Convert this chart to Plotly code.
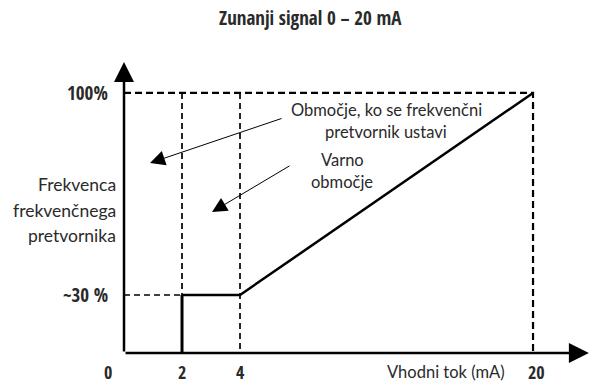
import plotly.graph_objects as go

# Operating curve of the frequency converter for an external 0-20 mA signal
current_ma = [2, 4, 20]          # input current, mA
frequency_pct = [30, 30, 100]     # converter frequency, %
stop_current = 2                  # below this the converter stops
safe_current = 4                  # start of the linear range
max_current = 20
min_freq = 30
max_freq = 100

x_tick_values = [0, 2, 4, 20]
x_tick_labels = ["0", "2", "4", "20"]
y_tick_values = [30, 100]
y_tick_labels = ["~30 %", "100%"]

W, H = 591, 382
BOLD = "Open Sans Condensed, Liberation Sans Narrow, sans-serif"
REG = "Lato, Roboto, sans-serif"
TXT = "#2a2a2a"

# The schematic axes are piecewise: the low range is drawn wider than the rest.
X_K = 0.6315
Y_K = 0.67


def mx(v):
    return v if v <= safe_current else safe_current + (v - safe_current) * X_K


def my(v):
    return v * Y_K if v <= min_freq else min_freq * Y_K + (v - min_freq)


X_RANGE = [-4.276, 16.103]
Y_RANGE = [-10.05, 122.3]

fig = go.Figure()

dash_style = dict(color="black", width=2.2, dash="7px,4px")
thin_dash = dict(color="black", width=1.7, dash="6px,4px")

# dashed guides
fig.add_trace(go.Scatter(x=[mx(0), mx(max_current), mx(max_current)],
                         y=[my(max_freq), my(max_freq), my(0)],
                         mode="lines", line=dash_style, hoverinfo="skip"))
fig.add_trace(go.Scatter(x=[mx(stop_current), mx(stop_current)],
                         y=[my(max_freq), my(min_freq)],
                         mode="lines", line=thin_dash, hoverinfo="skip"))
fig.add_trace(go.Scatter(x=[mx(safe_current), mx(safe_current)],
                         y=[my(max_freq), my(0)],
                         mode="lines", line=thin_dash, hoverinfo="skip"))
fig.add_trace(go.Scatter(x=[mx(0), mx(stop_current)],
                         y=[my(min_freq), my(min_freq)],
                         mode="lines", line=thin_dash, hoverinfo="skip"))

# operating curve
fig.add_trace(go.Scatter(x=[mx(stop_current), mx(stop_current)],
                         y=[my(0), my(min_freq)],
                         mode="lines", line=dict(color="black", width=3),
                         hoverinfo="skip"))
fig.add_trace(go.Scatter(x=[mx(v) for v in current_ma],
                         y=[my(v) for v in frequency_pct],
                         mode="lines", line=dict(color="black", width=2.5),
                         hoverinfo="skip"))

annotations = []

# axes with arrowheads
annotations.append(dict(x=0, y=100.8, ax=0, ay=my(0), xref="x", yref="y",
                        axref="x", ayref="y", showarrow=True, text="",
                        arrowhead=2, arrowsize=1.6, arrowwidth=2.5,
                        arrowcolor="black"))
annotations.append(dict(x=16.03, y=my(0), ax=0, ay=my(0), xref="x", yref="y",
                        axref="x", ayref="y", showarrow=True, text="",
                        arrowhead=2, arrowsize=1.6, arrowwidth=2.5,
                        arrowcolor="black"))

# tick labels
for v, t in zip(x_tick_values, x_tick_labels):
    annotations.append(dict(x=mx(v), y=my(0), xref="x", yref="y",
                            text=f"<b>{t}</b>", showarrow=False,
                            xanchor="center", yanchor="middle", yshift=-19,
                            xshift=-16 if v == 0 else (3 if v == max_current else 0),
                            font=dict(family=BOLD, size=18, color=TXT)))
for v, t in zip(y_tick_values, y_tick_labels):
    annotations.append(dict(x=0, y=my(v), xref="x", yref="y",
                            text=f"<b>{t}</b>", showarrow=False,
                            xanchor="right", yanchor="middle", xshift=-14,
                            font=dict(family=BOLD, size=19, color=TXT)))


def note(text, px, py, size, family=REG, xanchor="center"):
    annotations.append(dict(x=px / W, y=1 - py / H, xref="paper", yref="paper",
                            text=text, showarrow=False,
                            xanchor=xanchor, yanchor="middle",
                            font=dict(family=family, size=size, color=TXT)))


# title and axis captions
note("<b>Zunanji signal 0 – 20 mA</b>", 311, 18, 19, family=BOLD)
for i, line in enumerate(["Frekvenca", "frekvenčnega", "pretvornika"]):
    note(line, 118, 185 + 25 * i, 17.5, xanchor="right")
note("Vhodni tok (mA)", 446, 372, 16.5)

# region notes
for i, line in enumerate(["Območje, ko se frekvenčni", "pretvornik ustavi"]):
    note(line, 386, 110 + 22 * i, 16.5)
for i, line in enumerate(["Varno", "območje"]):
    note(line, 342, 160 + 22 * i, 16.5)

# pointer arrows into the regions
annotations.append(dict(x=150 / W, y=1 - 163 / H, xref="paper", yref="paper",
                        ax=133, ay=-45, showarrow=True, text="",
                        arrowhead=2, arrowsize=3, arrowwidth=1,
                        arrowcolor="black"))
annotations.append(dict(x=212 / W, y=1 - 212 / H, xref="paper", yref="paper",
                        ax=79, ay=-47, showarrow=True, text="",
                        arrowhead=2, arrowsize=3, arrowwidth=1,
                        arrowcolor="black"))

fig.update_layout(
    width=W, height=H,
    margin=dict(l=0, r=0, t=0, b=0),
    paper_bgcolor="white", plot_bgcolor="white",
    showlegend=False,
    xaxis=dict(range=X_RANGE, visible=False, fixedrange=True),
    yaxis=dict(range=Y_RANGE, visible=False, fixedrange=True),
    annotations=annotations,
)

fig.write_html("out.html")
